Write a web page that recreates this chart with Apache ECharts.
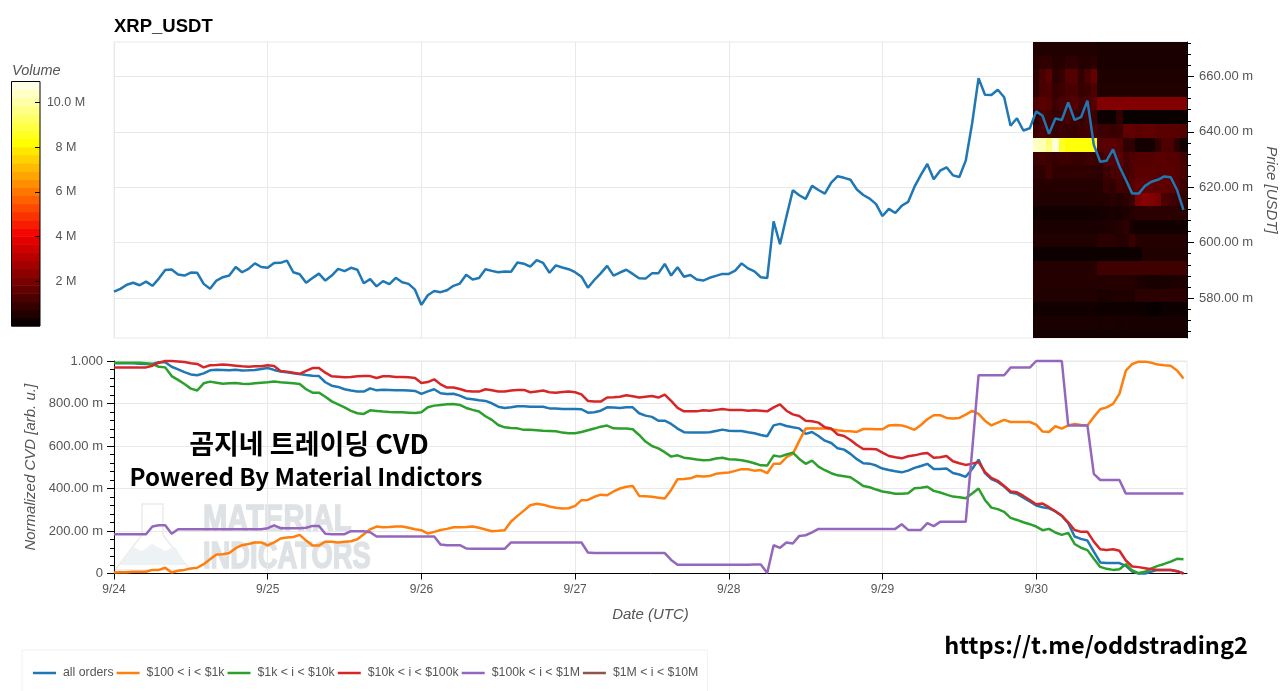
<!DOCTYPE html>
<html>
<head>
<meta charset="utf-8">
<title>XRP_USDT CVD</title>
<script src="https://cdn.jsdelivr.net/npm/echarts@6/dist/echarts.min.js"></script>
<style>
  html, body { margin: 0; padding: 0; background: #fff; overflow: hidden; }
  #chart { width: 1280px; height: 691px; }
</style>
</head>
<body>
<div id="chart"></div>
<script>
// hourly samples, index 0 = 9/24 00:00 UTC
const dayLabels = ['9/24', '9/25', '9/26', '9/27', '9/28', '9/29', '9/30'];
const dayHours = [0, 24, 48, 72, 96, 120, 144];

const price = [
  582.3,583.3,584.8,585.5,584.6,585.9,584.4,587.0,590.1,590.3,588.5,588.1,589.2,589.1,585.1,583.3,586.3,587.5,588.1,591.2,589.3,590.5,592.5,591.2,
  590.9,592.6,592.7,593.5,589.3,588.6,585.5,587.2,588.8,586.3,588.1,590.5,589.7,590.9,590.2,585.3,586.8,584.2,586.1,585.0,587.3,585.7,585.1,583.0,
  577.5,581.0,582.5,582.1,582.8,584.4,585.2,588.4,586.7,587.2,590.4,589.8,589.3,589.6,589.5,592.8,592.4,591.3,593.7,592.7,589.1,591.8,591.0,590.4,
  589.3,587.7,583.7,586.5,588.9,591.6,588.1,589.2,590.2,588.7,587.1,587.0,588.9,588.9,592.3,588.1,591.1,587.7,588.3,586.7,586.3,587.3,588.0,588.7,
  588.7,589.9,592.5,590.7,589.6,587.5,587.2,607.7,599.4,609.4,618.9,617.1,615.8,620.5,619.0,617.7,621.7,624.0,623.4,622.7,619.2,617.2,615.9,613.9,
  609.6,612.2,610.7,613.3,614.7,620.2,624.5,628.4,622.9,626.0,627.2,624.3,623.7,629.6,643.1,659.4,653.4,653.3,655.2,652.5,642.2,644.9,640.5,641.3,
  647.4,645.8,639.3,644.8,644.3,650.6,644.3,645.3,651.3,635.3,629.2,629.6,633.7,627.5,622.7,617.7,617.7,620.5,622.0,622.7,623.9,623.6,619.0,611.8
];

const cvdAll = [
  .989,.989,.989,.989,.987,.986,.986,.994,.994,.973,.961,.948,.937,.933,.942,.956,.959,.958,.956,.959,.955,.956,.958,.962,
  .967,.958,.950,.947,.942,.939,.934,.931,.929,.900,.884,.878,.867,.861,.857,.856,.871,.862,.865,.864,.862,.862,.861,.859,
  .845,.857,.867,.848,.845,.846,.837,.824,.820,.815,.812,.801,.785,.779,.782,.787,.787,.785,.785,.785,.777,.777,.774,.774,
  .774,.773,.757,.759,.766,.782,.781,.779,.782,.782,.754,.743,.737,.719,.719,.704,.682,.665,.663,.663,.663,.665,.671,.677,
  .672,.671,.671,.665,.660,.652,.646,.697,.704,.694,.688,.683,.657,.666,.647,.625,.614,.589,.583,.563,.538,.519,.517,.508,
  .494,.487,.481,.476,.484,.497,.506,.516,.492,.492,.494,.473,.466,.455,.492,.536,.472,.444,.431,.409,.381,.375,.357,.339,
  .320,.312,.307,.292,.271,.237,.174,.163,.155,.103,.052,.049,.049,.049,.036,.009,0,0,.009,.017,.017,.017,.011,0
];
const cvd100 = [
  .005,.006,.006,.008,.008,.008,.017,.017,.027,.005,.013,.017,.024,.027,.044,.067,.089,.091,.096,.119,.133,.139,.146,.146,
  .132,.146,.165,.169,.172,.182,.155,.132,.132,.150,.149,.146,.149,.152,.161,.185,.208,.221,.218,.219,.221,.221,.215,.208,
  .204,.188,.196,.205,.210,.218,.218,.219,.221,.215,.207,.199,.201,.204,.245,.271,.296,.321,.328,.324,.315,.309,.306,.307,
  .318,.345,.346,.361,.371,.368,.386,.400,.408,.412,.365,.364,.361,.357,.353,.393,.444,.445,.448,.459,.456,.459,.469,.473,
  .475,.483,.491,.491,.484,.487,.472,.516,.516,.547,.563,.624,.682,.683,.682,.682,.679,.674,.671,.669,.666,.680,.680,.679,
  .679,.697,.699,.697,.688,.676,.699,.726,.745,.745,.732,.729,.732,.748,.765,.751,.719,.697,.710,.723,.713,.713,.713,.713,
  .701,.668,.666,.693,.682,.697,.704,.699,.697,.737,.773,.782,.798,.845,.955,.986,.997,.997,.992,.983,.980,.978,.955,.918
];
const cvd1k = [
  .992,.992,.992,.992,.992,.989,.986,.973,.970,.929,.911,.892,.870,.861,.895,.903,.898,.893,.895,.897,.893,.892,.895,.898,
  .900,.903,.900,.898,.895,.892,.867,.851,.851,.832,.810,.796,.782,.765,.754,.751,.768,.765,.762,.760,.759,.759,.757,.755,
  .759,.782,.790,.793,.796,.798,.793,.779,.770,.762,.740,.723,.699,.688,.685,.683,.676,.676,.674,.672,.671,.669,.663,.660,
  .660,.666,.674,.682,.691,.696,.683,.682,.682,.679,.652,.621,.600,.589,.571,.550,.556,.545,.541,.536,.533,.534,.541,.545,
  .538,.536,.533,.527,.519,.509,.508,.555,.550,.560,.569,.539,.516,.531,.503,.486,.472,.462,.458,.453,.433,.412,.406,.395,
  .386,.381,.375,.375,.378,.401,.404,.408,.389,.381,.371,.362,.359,.354,.376,.400,.346,.310,.303,.290,.262,.252,.241,.232,
  .221,.204,.210,.193,.182,.191,.139,.121,.110,.069,.031,.022,.017,.020,.044,.014,.002,.008,.024,.036,.045,.056,.069,.067
];
const cvd10k = [
  .970,.970,.970,.970,.970,.970,.978,.992,1,1,.998,.995,.989,.986,.970,.980,.981,.983,.981,.978,.975,.973,.975,.975,
  .980,.976,.953,.950,.945,.939,.953,.967,.967,.945,.928,.926,.923,.925,.928,.929,.929,.920,.928,.928,.925,.925,.923,.920,
  .897,.901,.914,.890,.875,.875,.868,.859,.856,.856,.867,.862,.856,.857,.861,.864,.864,.853,.857,.861,.853,.851,.854,.856,
  .853,.843,.812,.809,.809,.828,.829,.832,.839,.834,.828,.832,.835,.828,.842,.812,.779,.763,.763,.763,.768,.766,.770,.774,
  .770,.770,.770,.766,.768,.766,.763,.782,.796,.766,.749,.741,.719,.716,.710,.688,.682,.654,.647,.628,.605,.586,.586,.585,
  .569,.553,.547,.542,.552,.556,.563,.567,.545,.547,.553,.528,.519,.511,.517,.524,.478,.450,.436,.412,.386,.382,.365,.346,
  .326,.329,.312,.293,.273,.241,.205,.196,.196,.150,.114,.111,.114,.107,.061,.033,.030,.025,.020,.017,.016,.016,.011,0
];
const cvd100k = [
  .185,.185,.185,.185,.185,.185,.221,.227,.227,.187,.208,.208,.208,.208,.208,.208,.208,.208,.208,.208,.208,.208,.208,.208,
  .213,.227,.213,.213,.213,.213,.215,.224,.224,.187,.185,.185,.185,.199,.199,.199,.194,.174,.174,.174,.174,.174,.174,.174,
  .174,.174,.174,.136,.133,.133,.133,.118,.116,.116,.116,.116,.116,.116,.146,.146,.146,.146,.146,.146,.146,.146,.146,.146,
  .146,.146,.099,.096,.096,.096,.096,.096,.096,.096,.096,.096,.096,.096,.096,.064,.041,.041,.041,.041,.041,.041,.041,.041,
  .041,.041,.041,.041,.042,.042,.002,.133,.121,.146,.141,.177,.180,.194,.210,.210,.210,.210,.210,.210,.210,.210,.210,.210,
  .210,.210,.210,.232,.205,.205,.205,.237,.223,.243,.243,.243,.243,.243,.578,.933,.933,.933,.933,.933,.969,.969,.969,.969,
  1,1,1,1,1,.697,.697,.697,.697,.469,.440,.440,.440,.440,.376,.376,.376,.376,.376,.376,.376,.376,.376,.376
];
const cvd1m = []; // in the legend, no line visible

// order book heatmap, volume in M per price bin (rows, top down) and hour (columns)
const heatHours = [143.5,144.5,145.5,146.5,147.5,148.5,149.5,150.5,151.5,152.5,153.5,154.5,155.5,156.5,157.5,158.5,159.5,160.5,161.5,162.5,163.5,164.5,165.5,166.5,167.55];
const heatPrices = [672.46,667.55,662.6,657.65,652.7,647.75,642.8,637.85,632.9,627.95,623,618.05,613.1,608.15,603.2,598.25,593.3,588.35,583.4,578.45,573.5,568.55,565.55];
const heatVolume = [
  [.55,.55,.55,.55,.55,.55,.55,.55,.55,.55,.45,.45,.45,.45,.45,.45,.45,.45,.45,.45,.45,.45,.45,.45],
  [.6,.8,.8,.6,.6,.8,.8,.6,.6,.7,.45,.45,.45,.45,.45,.45,.45,.45,.45,.45,.45,.45,.45,.45],
  [.7,1.2,1.5,.7,.9,1.4,1.4,.8,1.2,1.7,.5,.5,.5,.5,.5,.5,.5,.5,.5,.5,.5,.5,.5,.5],
  [.8,1.2,1.3,.9,1,1.2,1.2,.9,1,1.3,.55,.55,.55,.55,.55,.55,.55,.55,.55,.55,.55,.55,.55,.55],
  [1.3,1.5,1.4,1,1.2,1.3,1.4,1.1,1.2,1.4,2.2,2.2,2.2,2.2,2.2,2.2,2.2,2.2,2.2,2.2,2.2,2.2,2.2,2.2],
  [.8,1.2,1.1,.9,1,1.2,1,.9,1.1,1,.2,.2,.2,.8,.15,.15,.15,.15,.15,.15,.15,.15,.15,.15],
  [1,1.2,1.1,.9,1,.9,.9,1,1.1,1.2,1,1,.9,1,1.6,1.6,1.5,1.6,1.6,1.5,1.5,1.5,1.5,1.4],
  [10.4,10.2,9.5,10.6,8.6,8.2,8.3,8.3,8.3,8.3,1.4,1.5,1.5,1.4,.8,.8,.35,.35,.35,.8,1.3,1.3,.7,.3],
  [1,1.1,1,.9,1,1,.9,.9,1,1,1,1.3,1.4,1.5,1.1,1.3,1.4,1.4,1.4,1.5,1.5,1.4,1.4,1.1],
  [.8,.8,1.1,.8,.8,.8,.8,.8,.8,.8,.7,1,1.2,1.3,1.1,1.3,1.5,1.5,1.5,1.4,1.5,1.5,1.4,1.2],
  [.6,.6,.6,.6,.6,.6,.6,.6,.6,.6,.6,.9,.8,1.1,1,1.4,1.6,1.6,1.6,1.5,1.6,1.5,1.4,1],
  [.55,.55,.55,.55,.55,.55,.55,.55,.55,.55,.55,.6,.7,.6,.7,.9,2.1,2.3,2.2,2,1.2,1.1,1,.9],
  [.3,.3,.3,.3,.3,.3,.3,.3,.3,.3,.35,.4,.45,.4,.5,.6,.7,.7,.7,.7,.7,.7,.7,.7],
  [.45,.45,.45,.45,.45,.45,.45,.45,.45,.45,.45,.5,.55,.6,.8,.4,.3,.3,.3,.3,.3,.3,.3,.3],
  [.55,.55,.55,.55,.55,.55,.55,.55,.55,.55,.7,.7,.7,.6,.6,.95,.65,.6,.6,.6,.6,.6,.6,.6],
  [.2,.2,.2,.2,.2,.2,.2,.2,.2,.2,.2,.2,.2,.2,.2,.2,.2,.55,.55,.55,.55,.55,.55,.55],
  [.6,.6,.6,.6,.6,.6,.6,.6,.6,.65,1.05,1.05,1.05,1.05,1.05,1.05,1.05,1.05,1.05,1.05,1.05,1.05,1.05,1.05],
  [.6,.6,.6,.6,.6,.6,.6,.6,.6,.6,.6,.6,.6,.6,.6,.6,.5,.45,.4,.4,.45,.45,.5,.5],
  [.55,.55,.55,.55,.55,.55,.55,.55,.55,.55,.45,.45,.5,.5,.5,.5,.7,.7,.7,.7,.7,.7,.7,.7],
  [.3,.3,.3,.3,.3,.3,.3,.3,.3,.3,.25,.25,.25,.25,.25,.25,.25,.2,.1,.1,.2,.25,.25,.25],
  [.45,.45,.45,.45,.45,.45,.45,.45,.45,.45,.4,.45,.45,.4,.45,.4,.4,.4,.4,.4,.4,.4,.4,.4],
  [.35,.35,.35,.35,.35,.35,.35,.35,.35,.35,.35,.35,.35,.35,.35,.35,.35,.35,.35,.35,.35,.35,.35,.35]
];

const hotColors = ['#000000', '#520000', '#a30000', '#f50000', '#ff5500', '#ffaa00', '#ffff00', '#ffff80', '#fffff4'];
const volumeMax = 10.94;
const colorbarEdges = [0,.36,.73,1.09,1.46,1.82,2.19,2.55,2.92,3.28,3.65,4.01,4.38,4.74,5.11,5.47,5.84,6.2,6.56,6.93,7.29,7.66,8.02,8.39,8.75,9.12,9.48,9.85,10.21,10.58,10.94];
const colorbarTicks = [2, 4, 6, 8, 10];

const priceTicks = [580, 600, 620, 640, 660];
const priceMinorTicks = [568,572,576,584,588,592,596,604,608,612,616,624,628,632,636,644,648,652,656,664,668,672];
const priceMin = 565.55;
const priceMax = 672.46;
const hourMax = 167.55;

const seriesNames = ['all orders', '$100 < i < $1k', '$1k < i < $10k', '$10k < i < $100k', '$100k < i < $1M', '$1M < i < $10M'];
const seriesColors = ['#1f77b4', '#ff7f0e', '#2ca02c', '#d62728', '#9467bd', '#8c564b'];
const seriesValues = [cvdAll, cvd100, cvd1k, cvd10k, cvd100k, cvd1m];

const labelColor = '#555';
const gridColor = '#e9e9e9';
const fontFamily = '"Liberation Sans", Arial, sans-serif';

const heatCells = [];
heatVolume.forEach((row, r) => {
  row.forEach((v, c) => {
    heatCells.push([heatHours[c], heatHours[c + 1], v, heatPrices[r], heatPrices[r + 1]]);
  });
});

const colorbarCells = colorbarEdges.slice(1).map((hi, i) => {
  const lo = colorbarEdges[i];
  return [lo, hi, (lo + hi) / 2];
});

// snapped to whole pixels so neighbouring cells share an edge without a seam
const renderHeatCell = (params, api) => {
  const a = api.coord([api.value(0), api.value(3)]).map(Math.round);
  const b = api.coord([api.value(1), api.value(4)]).map(Math.round);
  return {
    type: 'rect',
    shape: { x: a[0], y: a[1], width: b[0] - a[0], height: b[1] - a[1] },
    style: { fill: api.visual('color') }
  };
};

const renderColorbarCell = (params, api) => {
  const a = api.coord([0, api.value(1)]);
  const b = api.coord([1, api.value(0)]);
  return {
    type: 'rect',
    shape: { x: a[0], y: a[1], width: b[0] - a[0], height: b[1] - a[1] + 0.5 },
    style: { fill: api.visual('color') }
  };
};

const chart = echarts.init(document.getElementById('chart'));

const lineSeries = seriesNames.map((name, k) => ({
  name,
  type: 'line',
  xAxisIndex: 1,
  yAxisIndex: 2,
  data: seriesValues[k].map((v, i) => [i, v]),
  showSymbol: false,
  lineStyle: { width: 2.5, color: seriesColors[k] },
  itemStyle: { color: seriesColors[k] },
  clip: false,
  z: 3 + k
}));

chart.setOption({
  animation: false,
  backgroundColor: '#fff',
  textStyle: { fontFamily },
  tooltip: { show: false },
  grid: [
    { left: 114, top: 42, width: 1073, height: 296, show: true, borderColor: gridColor, backgroundColor: 'transparent', outerBoundsMode: 'none' },
    { left: 114, top: 361, width: 1073, height: 212.5, show: true, borderColor: gridColor, backgroundColor: 'transparent', outerBoundsMode: 'none' },
    { left: 11.5, top: 81.5, width: 28.5, height: 244.5, outerBoundsMode: 'none' }
  ],
  legend: {
    left: 22,
    top: 650,
    padding: [17, 9, 15, 11],
    borderColor: '#f2f2f2',
    borderWidth: 1,
    icon: 'rect',
    itemWidth: 23,
    itemHeight: 2.5,
    itemGap: 3,
    data: seriesNames,
    textStyle: { color: labelColor, fontSize: 12.3, fontFamily, padding: [0, 0, 0, 2] }
  },
  visualMap: {
    show: false,
    type: 'continuous',
    min: 0,
    max: volumeMax,
    seriesIndex: [0, 1],
    dimension: 2,
    inRange: { color: hotColors }
  },
  xAxis: [
    {
      gridIndex: 0, type: 'value', min: 0, max: hourMax, interval: 24,
      axisLine: { show: false, onZero: false }, axisTick: { show: false }, axisLabel: { show: false },
      splitLine: { lineStyle: { color: gridColor } }
    },
    {
      gridIndex: 1, type: 'value', min: 0, max: hourMax, interval: 24,
      name: 'Date (UTC)', nameLocation: 'middle', nameGap: 34,
      nameTextStyle: { color: labelColor, fontStyle: 'italic', fontSize: 15 },
      axisLine: { onZero: false, lineStyle: { color: '#000' } },
      axisTick: { customValues: dayHours, length: 6, lineStyle: { color: '#000' } },
      axisLabel: {
        customValues: dayHours, color: labelColor, fontSize: 12, margin: 10,
        formatter: v => dayLabels[dayHours.indexOf(v)]
      },
      splitLine: { lineStyle: { color: gridColor } }
    },
    { gridIndex: 2, type: 'value', min: 0, max: 1, show: false }
  ],
  yAxis: [
    {
      gridIndex: 0, type: 'value', position: 'right', min: priceMin, max: priceMax,
      name: 'Price [USDT]', nameLocation: 'middle', nameGap: 73, nameRotate: -90,
      nameTextStyle: { color: labelColor, fontStyle: 'italic', fontSize: 15 },
      axisLine: { show: true, onZero: false, lineStyle: { color: '#000' } },
      axisTick: { show: true, customValues: priceTicks, length: 7, lineStyle: { color: '#000' } },
      axisLabel: {
        customValues: priceTicks, color: labelColor, fontSize: 13, margin: 12,
        formatter: v => v.toFixed(2) + ' m'
      },
      splitLine: { lineStyle: { color: gridColor } }
    },
    {
      gridIndex: 0, type: 'value', position: 'right', min: priceMin, max: priceMax,
      axisLine: { show: false, onZero: false },
      axisTick: { show: true, customValues: priceMinorTicks, length: 4, lineStyle: { color: '#000' } },
      axisLabel: { show: false },
      splitLine: { show: false }
    },
    {
      gridIndex: 1, type: 'value', min: 0, max: 1, interval: 0.2,
      name: 'Normalized CVD [arb. u.]', nameLocation: 'middle', nameGap: 71,
      nameTextStyle: { color: labelColor, fontStyle: 'italic', fontSize: 15 },
      axisLine: { show: true, onZero: false, lineStyle: { color: '#000' } },
      axisTick: { show: true, length: 7, lineStyle: { color: '#000' } },
      minorTick: { show: true, splitNumber: 5, length: 4, lineStyle: { color: '#000' } },
      axisLabel: {
        color: labelColor, fontSize: 13, margin: 11,
        formatter: v => (v === 0 ? '0' : v === 1 ? '1.000' : (v * 1000).toFixed(2) + ' m')
      },
      splitLine: { lineStyle: { color: gridColor } }
    },
    {
      gridIndex: 2, type: 'value', position: 'right', min: 0, max: volumeMax, z: 5,
      axisLine: { show: false, onZero: false },
      axisTick: { show: true, inside: true, customValues: colorbarTicks, length: 5, lineStyle: { color: '#000' } },
      axisLabel: {
        customValues: colorbarTicks, color: labelColor, fontSize: 12.5, margin: 26, align: 'center',
        formatter: v => (v === 10 ? '10.0 M' : v + ' M')
      },
      splitLine: { show: false }
    }
  ],
  series: [
    {
      type: 'custom', xAxisIndex: 0, yAxisIndex: 0, z: 1,
      renderItem: renderHeatCell,
      encode: { x: [0, 1], y: [3, 4] },
      data: heatCells,
      silent: true
    },
    {
      type: 'custom', xAxisIndex: 2, yAxisIndex: 3, z: 1,
      renderItem: renderColorbarCell,
      encode: { y: [0, 1] },
      data: colorbarCells,
      silent: true
    },
    {
      name: 'price', type: 'line', xAxisIndex: 0, yAxisIndex: 0, z: 3,
      data: price.map((v, i) => [i, v]),
      showSymbol: false,
      lineStyle: { width: 2.5, color: '#1f77b4' },
      itemStyle: { color: '#1f77b4' }
    },
    ...lineSeries
  ],
  graphic: { elements: [
    { type: 'rect', z: 6, shape: { x: 11.5, y: 81.5, width: 28.5, height: 244.5 }, style: { fill: 'none', stroke: '#000', lineWidth: 1 } },
    // watermark
    { type: 'polygon', z: 0, shape: { points: [[142,504],[163,504],[163,535],[190,570],[115,570],[142,535]] }, style: { fill: 'none', stroke: '#ececec', lineWidth: 1.5 } },
    { type: 'polygon', z: 0, shape: { points: [[120,565],[133,547],[142,551],[152,544],[165,551],[175,547],[186,565]] }, style: { fill: '#edf2f4' } },
    { type: 'text', z: 0, x: 203, y: 521, scaleX: 0.81, style: { text: 'MATERIAL', x: 0, y: 0, textVerticalAlign: 'middle', font: 'bold 36px "Liberation Sans"', fill: '#dfe2e5', stroke: '#dfe2e5', lineWidth: 1.5 } },
    { type: 'text', z: 0, x: 203, y: 558, scaleX: 0.76, style: { text: 'INDICATORS', x: 0, y: 0, textVerticalAlign: 'middle', font: 'bold 36px "Liberation Sans"', fill: '#dfe2e5', stroke: '#dfe2e5', lineWidth: 1.5 } },
    // titles and captions
    { type: 'text', style: { text: 'XRP_USDT', x: 114, y: 26.5, textVerticalAlign: 'middle', font: 'bold 18.5px ' + fontFamily, fill: '#000' } },
    { type: 'text', style: { text: 'Volume', x: 12, y: 71, textVerticalAlign: 'middle', font: 'italic 14.5px ' + fontFamily, fill: labelColor } },
    { type: 'text', z: 20, style: { text: '곰지네 트레이딩 CVD', x: 309, y: 444, textAlign: 'center', textVerticalAlign: 'middle', font: 'bold 27px "Noto Sans CJK KR"', fill: '#000' } },
    { type: 'text', z: 20, style: { text: 'Powered By Material Indictors', x: 306, y: 477, textAlign: 'center', textVerticalAlign: 'middle', font: 'bold 24px "Noto Sans CJK KR"', fill: '#000' } },
    { type: 'text', z: 20, style: { text: 'https://t.me/oddstrading2', x: 1096, y: 645, textAlign: 'center', textVerticalAlign: 'middle', font: 'bold 23.5px "Noto Sans CJK KR"', fill: '#000' } }
  ] }
});
</script>
</body>
</html>
